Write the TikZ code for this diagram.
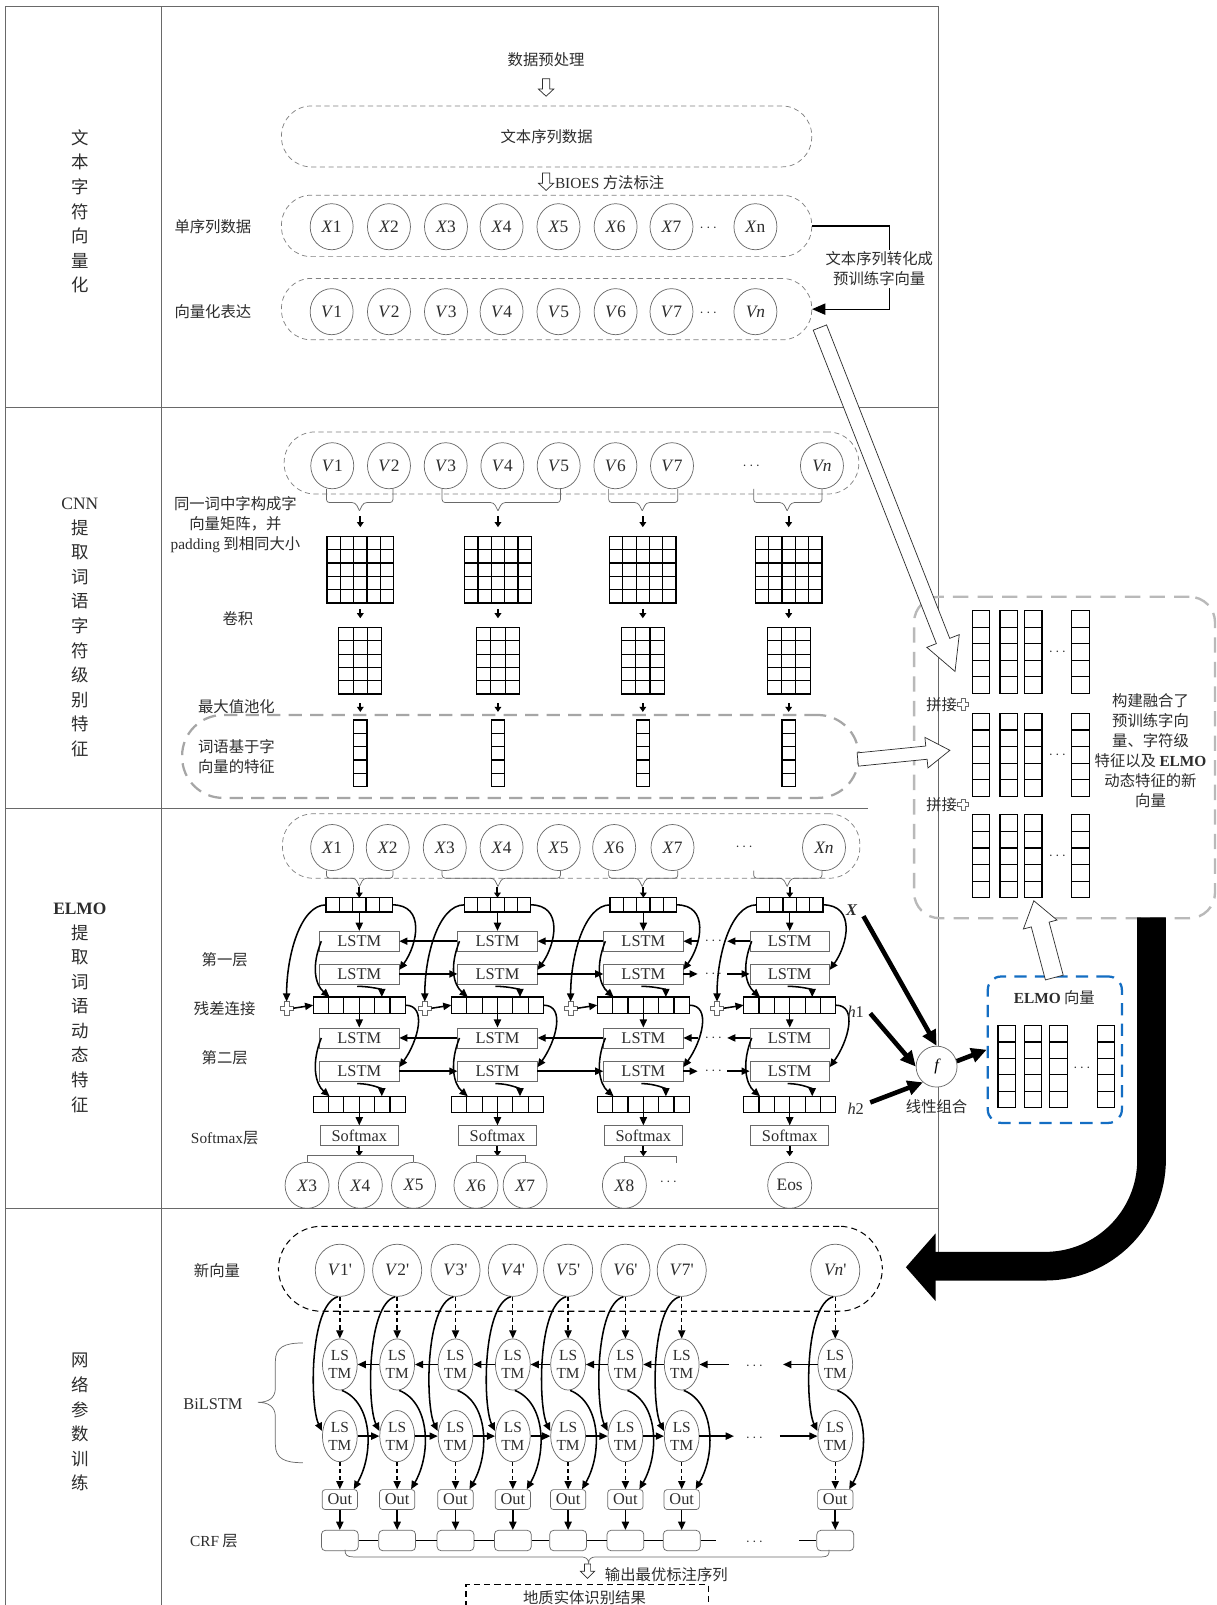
\documentclass[tikz,border=0pt]{standalone}
\usepackage{fontspec}
\setmainfont{Liberation Serif}
\newfontfamily\cjk{Noto Sans CJK SC}
\usetikzlibrary{arrows.meta,calc,shapes.geometric}
\definecolor{txtc}{RGB}{45,45,45}
\definecolor{linegray}{RGB}{105,105,105}
\definecolor{elmoblue}{RGB}{20,110,195}
\tikzset{
  zh15/.style={inner sep=0, text=txtc, font=\fontsize{15}{19.5}\selectfont\cjk, align=center},
  t15/.style={inner sep=0, text=txtc, font=\fontsize{15}{19.5}\selectfont, align=center},
  side/.style={inner sep=0, text=txtc, font=\fontsize{17}{24}\selectfont\cjk, align=center},
  frame/.style={draw=linegray, line width=0.8},
  ovtop/.style={rectangle, draw=gray, dash pattern=on 5pt off 3.5pt, line width=0.7, rounded corners=29, inner sep=0},
  cnnfeat/.style={rectangle, draw=gray!70, dash pattern=on 13pt off 8pt, line width=2.2, rounded corners=40, inner sep=0},
  cir/.style={ellipse, draw=linegray, line width=0.7, minimum width=42, minimum height=45, inner sep=0, text=txtc, font=\fontsize{17}{17}\selectfont},
  brc/.style={draw=linegray, line width=0.7, rounded corners=3},
  sarr/.style={draw=black, line width=2, -{Triangle[length=5pt,width=6.5pt]}},
  cellbox/.style={rectangle, draw=black, line width=1.2, inner sep=0, outer sep=0},
  cellline/.style={draw=black, line width=1.1},
  lstm/.style={rectangle, draw=linegray, line width=0.7, minimum width=77.5, minimum height=19.5, inner sep=0, text=txtc, font=\fontsize{16}{16}\selectfont},
  earr/.style={draw=black, line width=1.5, -{Triangle[length=8pt,width=7pt]}},
  thickarr/.style={draw=black, line width=4.5, -{Triangle[length=15pt,width=14pt]}},
  harrowstyle/.style={draw=txtc, fill=white, line width=0.7, line join=miter},
  bcir/.style={cir, minimum width=48, minimum height=51},
  lsell/.style={ellipse, draw=linegray, line width=0.7, minimum width=34, minimum height=50, inner sep=0, text=txtc, font=\fontsize{15}{17.5}\selectfont, align=center},
  outb/.style={rectangle, rounded corners=3, draw=linegray, line width=0.7, minimum width=34.5, minimum height=19.5, inner sep=0, text=txtc, font=\fontsize{16}{16}\selectfont},
  crfb/.style={rectangle, rounded corners=4, draw=linegray, line width=0.7, minimum width=36, minimum height=20, inner sep=0},
  barr/.style={draw=black, line width=1.5, -{Triangle[length=8pt,width=7pt]}},
  darr/.style={draw=black, line width=1.3, dash pattern=on 4pt off 3pt, -{Triangle[length=8pt,width=7pt]}},
  crfl/.style={draw=black, line width=1.5},
}
\newcommand\hollowarrow[7]{%
  \begin{scope}[shift={(#1,#2)},rotate=#3]
  \draw[harrowstyle] (0,-#5) -- ({#4-#7},-#5) -- ({#4-#7},-#6) -- (#4,0) -- ({#4-#7},#6) -- ({#4-#7},#5) -- (0,#5) -- cycle;
  \end{scope}}
\newcommand\gridnode[7]{%
  \node[cellbox, minimum width=#6, minimum height=#7] (#1) at (#2,#3) {};
  \pgfmathsetmacro\gcw{#6/#4}%
  \pgfmathsetmacro\gch{#7/#5}%
  \foreach \gi in {1,...,#4}{\draw[cellline] ($(#1.north west)+({\gi*\gcw},0)$) -- ++(0,#7);}%
  \foreach \gj in {1,...,#5}{\draw[cellline] ($(#1.north west)+(0,{\gj*\gch})$) -- ++(#6,0);}%
}
\newcommand\plusnode[4]{% name x y halfsize
  \node[minimum size={2*#4}, inner sep=0, outer sep=0] (#1) at (#2,#3) {};
  \begin{scope}[shift={(#2,#3)}]
  \draw[draw=linegray, fill=white, line width=0.7] (-#4,-2.2) -- (-2.2,-2.2) -- (-2.2,-#4) -- (2.2,-#4) -- (2.2,-2.2) -- (#4,-2.2) -- (#4,2.2) -- (2.2,2.2) -- (2.2,#4) -- (-2.2,#4) -- (-2.2,2.2) -- (-#4,2.2) -- cycle;
  \end{scope}}
\newcommand\gbr[6]{%
  \draw[brc] (#1,#4) -- (#1,#5) -- ({#3-4},#5) -- (#3,#6);
  \draw[brc] (#2,#4) -- (#2,#5) -- ({#3+4},#5) -- (#3,#6);}
\begin{document}
\begin{tikzpicture}[x=1pt,y=-1pt]
\useasboundingbox (0,0) rectangle (1188,1568);
\fill[white] (0,0) rectangle (1188,1568);
% ---------- frame ----------
\draw[frame] (5,1568) -- (5,6) -- (917,6) -- (917,1240);
\draw[frame] (158,6) -- (158,1568);
\draw[frame] (5,398) -- (917,398);
\draw[frame] (5,790) -- (848,790);
\draw[frame] (5,1181) -- (917,1181);
\node[side] (s1) at (78,206.5) {文\\本\\字\\符\\向\\量\\化};
\node[side] (s2) at (78,613) {{\rmfamily CNN}\\提\\取\\词\\语\\字\\符\\级\\别\\特\\征};
\node[side] (s3) at (78,984.5) {{\rmfamily\bfseries ELMO}\\提\\取\\词\\语\\动\\态\\特\\征};
\node[side] (s4) at (78,1389.5) {网\\络\\参\\数\\训\\练};
% ---------- section 1 ----------
\node[zh15] (pre) at (533.5,58) {数据预处理};
\hollowarrow{533.5}{77}{-90}{17}{3.5}{7.5}{7}
\node[ovtop, minimum width=518, minimum height=59.5, font=\fontsize{15}{15}\selectfont\cjk, text=txtc] (seq) at (534,133.3) {文本序列数据};
\hollowarrow{533.5}{169}{-90}{17}{3.5}{7.5}{7}
\node[zh15, anchor=west] (bioes) at (542,178.5) {{\rmfamily BIOES} 方法标注};
\node[ovtop, minimum width=518, minimum height=60] (ovx) at (534,220.7) {};
\node[ovtop, minimum width=518, minimum height=60] (ovv) at (534,302) {};
\foreach \k/\cx in {1/324,2/380,3/435.7,4/490,5/545.6,6/601.4,7/656}{
  \node[cir] (ax\k) at (\cx,221.5) {\textit{X}\k};
  \node[cir] (av\k) at (\cx,304.5) {\textit{V}\k};}
\node[cir] (axn) at (738,221.5) {\textit{X}n};
\node[cir] (avn) at (738,304.5) {\textit{Vn}};
\node[t15] (axd) at (692,223) {$\cdots$};
\node[t15] (avd) at (692,306) {$\cdots$};
\node[zh15] (l1) at (208,221.5) {单序列数据};
\node[zh15] (l2) at (208,304.5) {向量化表达};
\draw[line width=1.2, draw=black, -{Triangle[length=13pt,width=11pt]}] (ovx.east) -- ++(76,0) |- (ovv.east);
\node[zh15, fill=white, inner sep=2] (conv) at (859,262.5) {文本序列转化成\\预训练字向量};
% ---------- section 2 CNN ----------
\node[ovtop, minimum width=561.5, minimum height=60.6, rounded corners=30] (cov) at (558.3,452.3) {};
\foreach \k/\cx in {1/324.6,2/380,3/435.4,4/490.8,5/545.8,6/601.2,7/656.5}{
  \node[cir] (cv\k) at (\cx,455) {\textit{V}\k};}
\node[cir] (cvn) at (803,455) {\textit{Vn}};
\node[t15] (cvd) at (734,455) {$\cdots$};
\gbr{318.9}{383.9}{351.2}{477.5}{491}{499}
\gbr{431.9}{547.5}{486.5}{477.5}{491}{499}
\gbr{594.6}{662.2}{627.4}{477.5}{491}{499}
\gbr{736.3}{803}{769}{477.5}{491}{499}
\foreach \k/\cx in {1/352,2/486.5,3/628,4/770.5}{
  \gridnode{m\k}{\cx}{556.5}{5}{5}{65}{65}
  \gridnode{n\k}{\cx}{645.5}{3}{5}{42}{65}
  \gridnode{w\k}{\cx}{736}{1}{5}{13}{65}
  \draw[sarr] ($(m\k.north)+(0,-19.5)$) -- ++(0,10.5);
  \draw[sarr] ($(m\k.south)+(0,6)$) -- ++(0,9);
  \draw[sarr] ($(n\k.south)+(0,9)$) -- ++(0,8.5);
}
\node[zh15] (cnnlab) at (230,513) {同一词中字构成字\\向量矩阵，并\\{\rmfamily padding} 到相同大小};
\node[zh15] (juanji) at (232.5,604) {卷积};
\node[zh15] (pool) at (231,690.4) {最大值池化};
\node[cnnfeat, minimum width=661, minimum height=81] (cfeat) at (508.4,739) {};
\node[zh15] (cfeatlab) at (231,739) {词语基于字\\向量的特征};
% ---------- right fused box ----------
\node[rectangle, draw=gray!55, dash pattern=on 15pt off 9pt, line width=2.3, rounded corners=25, minimum width=294, minimum height=314, inner sep=0] (fuse) at (1040,740) {};
\foreach \row/\cy in {A/637,B/737.5,C/836.5}{
  \foreach \col/\cx in {1/958.5,2/985.5,3/1009.5,4/1055.5}{\gridnode{z\row\col}{\cx}{\cy}{1}{5}{17}{81}}
  \node[t15] (zd\row) at (1033,\cy) {$\cdots$};
}
\node[zh15] (pj1) at (920,688) {拼接};
\plusnode{pp1}{941}{688}{5.5}
\node[zh15] (pj2) at (920,786) {拼接};
\plusnode{pp2}{941}{786}{5.5}
\node[zh15] (fusetxt) at (1124,733) {构建融合了\\预训练字向\\量、字符级\\特征以及 {\rmfamily\bfseries ELMO}\\动态特征的新\\向量};
% ---------- ELMO vector box ----------
\node[rectangle, draw=elmoblue, dash pattern=on 12pt off 8pt, line width=2.2, rounded corners=13, minimum width=131, minimum height=143, inner sep=0] (elmobox) at (1030.5,1025.5) {};
\node[zh15] (elmotitle) at (1030,975) {{\rmfamily\bfseries ELMO} 向量};
\foreach \col/\cx in {1/983.5,2/1009,3/1034,4/1080.5}{\gridnode{e\col}{\cx}{1042}{1}{5}{17}{80}}
\node[t15] (ed) at (1057,1044) {$\cdots$};
% ---------- section 3 ELMO ----------
\node[ovtop, minimum width=564, minimum height=63, rounded corners=30] (eov) at (558,826.5) {};
\foreach \k/\cx in {1/324.5,2/378.8,3/434.5,4/490,5/545.8,6/600,7/657}{
  \node[cir] (ex\k) at (\cx,828) {\textit{X}\k};}
\node[cir] (exn) at (805,828) {\textit{Xn}};
\node[t15] (exd) at (727,828) {$\cdots$};
\gbr{318.9}{383.9}{351.2}{850.5}{858}{866}
\gbr{431.9}{547.5}{486.5}{850.5}{858}{866}
\gbr{594.6}{662.2}{627.4}{850.5}{858}{866}
\gbr{736.3}{803}{769}{850.5}{858}{866}
\foreach \k/\cx in {1/351,2/486,3/628.5,4/771.5}{
  \gridnode{t\k}{\cx}{884}{5}{1}{65}{14}
  \node[lstm] (a\k) at (\cx,919.5) {LSTM};
  \node[lstm] (b\k) at (\cx,951.5) {LSTM};
  \gridnode{h\k}{\cx}{982}{6}{1}{90}{16}
  \node[lstm] (c\k) at (\cx,1014) {LSTM};
  \node[lstm] (d\k) at (\cx,1046.5) {LSTM};
  \gridnode{g\k}{\cx}{1079}{6}{1}{90}{16}
  \node[lstm, minimum width=76] (s\k) at (\cx,1109.5) {Softmax};
  \pgfmathsetmacro\px{\cx-71}
  \plusnode{p\k}{\px}{985}{6.5}
  \draw[sarr] ($(t\k.north)+(0,-10)$) -- (t\k.north);
  \draw[earr] (t\k.south) -- (a\k.north);
  \draw[earr] (t\k.west) .. controls +(-25,0) and +(0,-45) .. (p\k.north);
  \draw[earr] (t\k.east) .. controls +(32,0) and +(18,-25) .. ($(b\k.east)+(0,-4)$);
  \draw[earr] ($(a\k.west)+(2,0)$) .. controls +(-10,25) and +(-14,-12) .. ($(h\k.north west)+(16,0)$);
  \draw[earr] ($(b\k.south)+(-2,2)$) .. controls +(14,0) and +(0,-7) .. ($(h\k.north)+(22,0)$);
  \draw[earr] (h\k.south) -- (c\k.north);
  \draw[earr] (h\k.east) .. controls +(22,0) and +(18,-25) .. ($(d\k.east)+(0,-4)$);
  \draw[earr] ($(c\k.west)+(2,0)$) .. controls +(-10,25) and +(-14,-12) .. ($(g\k.north west)+(16,0)$);
  \draw[earr] ($(d\k.south)+(-2,2)$) .. controls +(14,0) and +(0,-7) .. ($(g\k.north)+(22,0)$);
  \draw[earr] (g\k.south) -- (s\k.north);
  \draw[earr] (p\k.east) -- (h\k.west);
  \draw[sarr] (s\k.south) -- ++(0,10);
}
\foreach \i/\j in {1/2,2/3}{
  \draw[earr] (a\j.west) -- (a\i.east);
  \draw[earr] (b\i.east) -- (b\j.west);
  \draw[earr] (c\j.west) -- (c\i.east);
  \draw[earr] (d\i.east) -- (d\j.west);
}
\foreach \r/\yy in {a/919.5,c/1014}{
  \draw[earr] (\r4.west) -- ++(-22,0);
  \draw[earr] ($(\r3.east)+(14,0)$) -- (\r3.east);
  \node[t15] (dd\r) at (697,\yy) {$\cdots$};
}
\foreach \r/\yy in {b/951.5,d/1046.5}{
  \draw[earr] (\r3.east) -- ++(14,0);
  \draw[earr] ($(\r4.west)+(-22,0)$) -- (\r4.west);
  \node[t15] (dd\r) at (697,\yy) {$\cdots$};
}
\node[zh15] (ly1) at (219.5,938) {第一层};
\node[zh15] (ly2) at (219.5,985.5) {残差连接};
\node[zh15] (ly3) at (219.5,1033) {第二层};
\node[zh15] (ly4) at (219.5,1111.5) {{\rmfamily Softmax}层};
% outputs
\foreach \k/\cx/\lab in {1/300/{\textit{X}3},2/352/{\textit{X}4},3/404/{\textit{X}5},4/465/{\textit{X}6},5/513/{\textit{X}7},6/610/{\textit{X}8},7/771.5/{Eos}}{
  \node[cir, minimum width=43, minimum height=45] (o\k) at (\cx,1158) {\lab};}
\node[t15] (od) at (653,1155) {$\cdots$};
\draw[brc, rounded corners=0] (o1.north) |- ($(o3.north)+(0,-6)$) -- (o3.north);
\draw[brc, rounded corners=0] (o4.north) |- ($(o5.north)+(0,-6)$) -- (o5.north);
\draw[brc, rounded corners=0] (o6.north) |- (661,1129.5) -- (661,1136);
% linear combination
\node[t15, font=\fontsize{16}{16}\selectfont\bfseries\itshape] (Xlab) at (832,889) {X};
\node[t15, font=\fontsize{16}{16}\selectfont] (h1lab) at (836,988) {\textit{h}1};
\node[t15, font=\fontsize{16}{16}\selectfont] (h2lab) at (836,1083) {\textit{h}2};
\node[circle, draw=linegray, fill=white, line width=0.7, minimum size=40, inner sep=0, font=\fontsize{16}{16}\selectfont\itshape] (fnode) at (915,1042) {f};
\node[zh15] (lincomb) at (915,1081) {线性组合};
\draw[thickarr] ($(Xlab.east)+(6,6)$) -- (fnode.north);
\draw[thickarr] ($(h1lab.east)+(6,2)$) -- (fnode.west);
\draw[thickarr] ($(h2lab.east)+(6,-6)$) -- (fnode.229);
\draw[thickarr] (fnode.15) -- (elmobox.west);
% ---------- section 4 BiLSTM ----------
\node[rectangle, draw=black, dash pattern=on 6pt off 4pt, line width=1, rounded corners=42, minimum width=590, minimum height=83, inner sep=0] (bov) at (567,1239.5) {};
\foreach \k/\cx/\lab in {1/332/{\textit{V}1\textquotesingle},2/388/{\textit{V}2\textquotesingle},3/445/{\textit{V}3\textquotesingle},4/501/{\textit{V}4\textquotesingle},5/555/{\textit{V}5\textquotesingle},6/611/{\textit{V}6\textquotesingle},7/666/{\textit{V}7\textquotesingle},8/816/{\textit{Vn}\textquotesingle}}{
  \node[bcir] (nv\k) at (\cx,1241) {\lab};
  \node[lsell] (r\k) at (\cx,1333) {LS\\TM};
  \node[lsell] (q\k) at (\cx,1403) {LS\\TM};
  \node[outb] (u\k) at (\cx,1465) {Out};
  \node[crfb] (cr\k) at (\cx,1505) {};
  \draw[darr] (nv\k.south) -- (r\k.north);
  \draw[barr] ($(nv\k.south)+(-2,0)$) .. controls +(-28,8) and +(-12,-24) .. ($(q\k.west)+(0,-5)$);
  \draw[barr] ($(r\k.south)+(2,0)$) .. controls +(30,12) and +(20,-35) .. ($(u\k.north east)+(-4,0)$);
  \draw[darr] (q\k.south) -- (u\k.north);
  \draw[barr] (u\k.south) -- (cr\k.north);
}
\foreach \i/\j in {1/2,2/3,3/4,4/5,5/6,6/7}{
  \draw[barr] (r\j.west) -- (r\i.east);
  \draw[barr] (q\i.east) -- (q\j.west);
  \draw[crfl] (cr\i.east) -- (cr\j.west);
}
\coordinate (rA) at (712,1333);
\coordinate (rB) at (765,1333);
\coordinate (qA) at (717,1403);
\coordinate (qB) at (762,1403);
\draw[barr] (rA) -- (r7.east);
\draw[barr] (r8.west) -- (rB);
\draw[barr] (q7.east) -- (qA);
\draw[barr] (qB) -- (q8.west);
\node[t15] (rd) at (737,1335) {$\cdots$};
\node[t15] (qd) at (737,1405) {$\cdots$};
\coordinate (cA) at (699.5,1505);
\coordinate (cB) at (781,1505);
\draw[crfl] (cr7.east) -- (cA);
\draw[crfl] (cB) -- (cr8.west);
\node[t15] (crd) at (737,1507) {$\cdots$};
\node[zh15] (newv) at (212,1241) {新向量};
\node[t15, font=\fontsize{16}{16}\selectfont] (bilstm) at (208,1372) {BiLSTM};
\node[zh15] (crfl) at (209,1505.5) {{\rmfamily CRF} 层};
\draw[draw=linegray, line width=0.7] (296,1312) .. controls (278,1312) and (269,1316) .. (269,1330) -- (269,1356) .. controls (269,1366) and (262,1370) .. (252,1370) .. controls (262,1370) and (269,1374) .. (269,1384) -- (269,1411) .. controls (269,1425) and (278,1429) .. (296,1429);
\draw[draw=linegray, line width=0.7] (337,1514) .. controls (337,1519) and (339,1521) .. (345,1521) -- (568,1521) .. controls (572,1521) and (575,1523) .. (575,1527) .. controls (575,1523) and (578,1521) .. (582,1521) -- (803,1521) .. controls (809,1521) and (810,1519) .. (810,1514);
\hollowarrow{574}{1528}{-90}{14}{3}{7}{7}
\node[zh15] (optseq) at (651,1538.7) {输出最优标注序列};
\draw[draw=black, line width=1.6, dash pattern=on 6pt off 4pt] (455,1600) -- (455,1548) -- (692,1548) -- (692,1600);
\node[zh15] (result) at (571,1561) {地质实体识别结果};
% ---------- big arrows ----------
\hollowarrow{801}{320}{-68.55}{361}{7}{17}{32}
\hollowarrow{838}{742}{5.71}{90.4}{6.5}{15}{23}
\hollowarrow{1030}{955}{104.93}{77.6}{9}{17}{24}
\draw[black, line width=28, rounded corners=104] ($(fuse.south)+(85,-2)$) -- (1125,1237) -- (912,1237);
\fill[black] (914,1205) -- (885,1238) -- (914,1271) -- cycle;
\end{tikzpicture}
\end{document}
